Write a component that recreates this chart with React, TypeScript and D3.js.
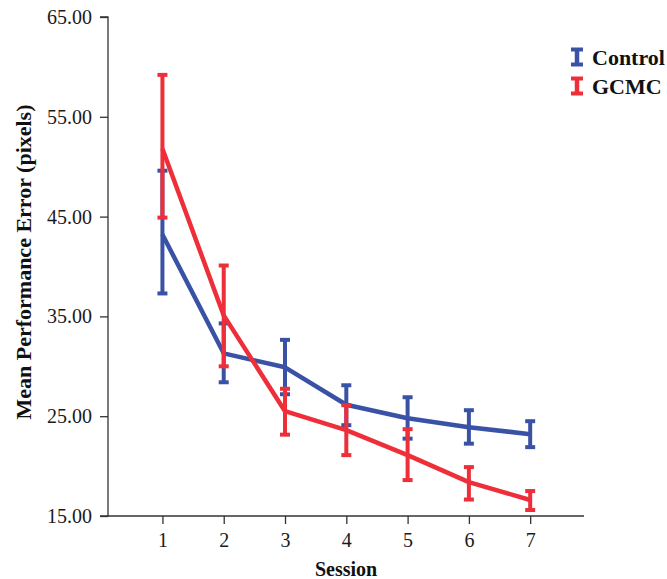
import { useEffect, useRef } from 'react';
import * as d3 from 'd3';

const sessions = [1, 2, 3, 4, 5, 6, 7];
const controlMean = [43.2, 31.3, 29.9, 26.15, 24.8, 23.9, 23.2];
const controlHi = [49.6, 34.3, 32.65, 28.1, 26.9, 25.6, 24.5];
const controlLo = [37.3, 28.4, 27.2, 24.1, 22.75, 22.25, 21.9];
const gcmcMean = [51.8, 35.1, 25.5, 23.6, 21.1, 18.4, 16.6];
const gcmcHi = [59.2, 40.1, 27.75, 26.1, 23.7, 19.9, 17.5];
const gcmcLo = [44.9, 30.0, 23.15, 21.1, 18.6, 16.65, 15.6];
const yTicks = [15, 25, 35, 45, 55, 65];

const BLUE = '#3a52a5';
const RED = '#ee2f3a';
const FONT = '"Liberation Serif", "DejaVu Serif", serif';

const series = [
  { name: 'Control', color: BLUE, mean: controlMean, hi: controlHi, lo: controlLo },
  { name: 'GCMC', color: RED, mean: gcmcMean, hi: gcmcHi, lo: gcmcLo },
];

export default function App() {
  const ref = useRef<SVGSVGElement>(null);

  useEffect(() => {
    if (!ref.current) return;
    const svg = d3.select(ref.current);
    svg.selectAll('*').remove();

    const left = 108, right = 584, top = 17, bottom = 516;
    const x = d3.scaleLinear().domain([0.112, 7.878]).range([left, right]);
    const y = d3.scaleLinear().domain([15, 65]).range([bottom, top]);

    // y axis
    const ya = svg.append('g').attr('transform', `translate(${left},0)`)
      .call(d3.axisLeft(y).tickValues(yTicks).tickFormat(d3.format('.2f')).tickSize(8).tickPadding(8));
    ya.select('.domain').attr('stroke', '#333').attr('stroke-width', 1.3).attr('d', `M-8,${top}H0V${bottom}H-8`);
    ya.selectAll('line').attr('stroke', '#333').attr('stroke-width', 1.3);
    ya.selectAll('text').attr('fill', '#1a1a1a').style('font-family', FONT).style('font-size', '20px');

    // x axis
    const xa = svg.append('g').attr('transform', `translate(0,${bottom})`)
      .call(d3.axisBottom(x).tickValues(sessions).tickFormat(d3.format('d')).tickSize(8).tickPadding(9));
    xa.select('.domain').attr('stroke', '#333').attr('stroke-width', 1.3).attr('d', `M${left},0H${right}`);
    xa.selectAll('line').attr('stroke', '#333').attr('stroke-width', 1.3);
    xa.selectAll('text').attr('fill', '#1a1a1a').style('font-family', FONT).style('font-size', '20px');

    svg.append('text').attr('x', (left + right) / 2).attr('y', 576)
      .attr('text-anchor', 'middle').style('font-family', FONT).style('font-size', '20px')
      .style('font-weight', 'bold').attr('fill', '#111').text('Session');

    svg.append('text').attr('transform', `translate(31,262) rotate(-90)`)
      .attr('text-anchor', 'middle').style('font-family', FONT).style('font-size', '22px')
      .style('font-weight', 'bold').attr('fill', '#111').text('Mean Performance Error (pixels)');

    const line = d3.line<number>().x((_, i) => x(sessions[i])).y(d => y(d));

    series.forEach(s => {
      const g = svg.append('g');
      g.append('path').datum(s.mean).attr('d', line).attr('fill', 'none')
        .attr('stroke', s.color).attr('stroke-width', 4.5).attr('stroke-linejoin', 'round');
      sessions.forEach((sess, i) => {
        const cx = x(sess);
        g.append('line').attr('x1', cx).attr('x2', cx).attr('y1', y(s.hi[i])).attr('y2', y(s.lo[i]))
          .attr('stroke', s.color).attr('stroke-width', 4);
        [s.hi[i], s.lo[i]].forEach(v => {
          g.append('line').attr('x1', cx - 5).attr('x2', cx + 5).attr('y1', y(v)).attr('y2', y(v))
            .attr('stroke', s.color).attr('stroke-width', 4);
        });
      });
    });

    // legend
    series.forEach((s, i) => {
      const ly = 57 + i * 29;
      const lg = svg.append('g').attr('transform', `translate(577,${ly})`);
      lg.append('line').attr('x1', 0).attr('x2', 0).attr('y1', -9).attr('y2', 9)
        .attr('stroke', s.color).attr('stroke-width', 4.5);
      lg.append('line').attr('x1', -6).attr('x2', 6).attr('y1', -7.5).attr('y2', -7.5)
        .attr('stroke', s.color).attr('stroke-width', 4);
      lg.append('line').attr('x1', -6).attr('x2', 6).attr('y1', 7.5).attr('y2', 7.5)
        .attr('stroke', s.color).attr('stroke-width', 4);
      lg.append('text').attr('x', 15).attr('y', 8).style('font-family', FONT)
        .style('font-size', '22px').style('font-weight', 'bold').attr('fill', '#111').text(s.name);
    });
  }, []);

  return (
    <svg ref={ref} width={667} height={579}
      style={{ display: 'block', position: 'absolute', left: 0, top: 0, background: '#fff' }} />
  );
}
